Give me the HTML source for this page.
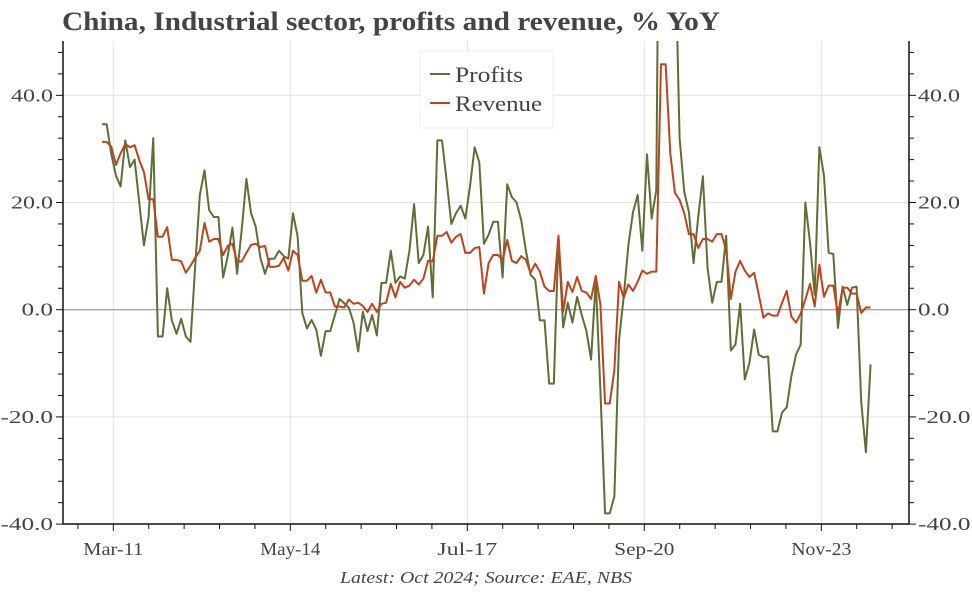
<!DOCTYPE html>
<html><head><meta charset="utf-8"><style>
html,body{margin:0;padding:0;background:#fff;}
svg text{font-family:"Liberation Serif",serif;fill:#444;}
</style></head><body>
<svg id="chart" width="972" height="589" viewBox="0 0 972 589" xmlns="http://www.w3.org/2000/svg">
<text x="62" y="30" font-size="26" font-weight="bold" fill="#444" textLength="658" lengthAdjust="spacingAndGlyphs">China, Industrial sector, profits and revenue, % YoY</text>
<defs><clipPath id="plotclip"><rect x="63" y="41" width="846" height="483"/></clipPath></defs>
<g id="grid"></g>
<g id="series" clip-path="url(#plotclip)"></g>
<g id="axes"></g>
<g>
<rect x="420" y="51" width="133" height="77" fill="#fff" stroke="#eee"/>
<line x1="430" y1="74" x2="450" y2="74" stroke="#5b7032" stroke-width="2"/>
<text x="455" y="82" font-size="22" textLength="68" lengthAdjust="spacingAndGlyphs">Profits</text>
<line x1="430" y1="103" x2="450" y2="103" stroke="#c2421a" stroke-width="2"/>
<text x="455" y="111" font-size="22" textLength="87" lengthAdjust="spacingAndGlyphs">Revenue</text>
</g>
<text x="340" y="583" font-size="17" font-style="italic" textLength="292" lengthAdjust="spacingAndGlyphs">Latest: Oct 2024; Source: EAE, NBS</text>
</svg>
<script>
const profits = [34.6,34.6,29,25,23,31.6,26.6,28,20,12,17.3,32,-5,-5,4,-2,-4.5,-1.7,-5,-6,8,21.4,26,18.6,17.3,17.3,6,10,15.3,6.7,15,24.4,18,15.5,9.7,6.7,9.5,9.5,11,10,9.5,18,13.6,-0.6,-3.5,-1.9,-3.7,-8.6,-4,-4,-1,2,1.2,0.4,-2.4,-7.8,-0.4,-4,-1,-4.8,5,5,11,5,6.2,5.8,11,19.7,8.7,10.2,15.5,2.3,31.6,31.6,24,16,18,19.4,17,23,30.3,27.5,12.3,14,16.4,16.4,6,23.4,21,20,16.7,11,6.5,5.6,-2,-2,-13.8,-13.8,13.4,-3.3,1.3,-2.4,2.4,-1,-4,-9.3,5.5,-15,-38,-38,-34.8,-5.6,2.4,12,18.2,21.4,11,29,17,22.3,130,100,80,70,32,22,18.2,8.7,17.3,24.9,7.8,1.3,5.2,5.2,13.8,-7.6,-6.5,1.1,-13,-9.9,-3.7,-8.4,-8.9,-8.7,-22.7,-22.7,-19.2,-18.2,-12.4,-8.4,-6.5,20,12.5,2.8,30.3,25,10.6,10.4,-3.4,4.3,0.9,4.1,4.3,-17.3,-26.6,-10.2];
const revenue = [31.3,31.3,30.4,27,29.2,30.9,30.3,30.7,27.9,25.7,20.6,20.6,13.6,13.6,15.4,9.3,9.3,9,6.9,8.2,9.7,11,16.2,12.7,13.2,13.2,10.2,11.9,12.3,9,9,10.6,12.1,12.3,11.7,11.9,8,8,8.2,9.7,7.3,11,10.2,5.4,5.4,6.3,3.2,5.6,3.2,3.2,0.6,0.6,0.4,1.9,1.1,1.3,0.7,-0.4,1.1,-0.4,1.1,1.3,4.8,2.3,5.2,4.1,4.5,5.6,4.7,5.8,9.1,9,13.8,13.8,14.5,12.5,13.6,14.1,10.6,10.6,11.5,11.7,3,8.7,10.2,10.2,9.3,13,9.1,8.7,10,9.3,6.9,8.6,7.1,4.3,3.5,3.5,13.8,-0.4,5.2,3.3,6.1,3.5,3.2,2,6.3,1,-17.5,-17.5,-11.2,5.2,2.2,4.7,3.5,5.2,7.3,6.7,7.1,7.1,45.8,45.8,29.2,21.8,20.5,18,14.1,14.1,11.5,13.2,13.2,12.7,14.1,14.1,11.2,2,7.1,9.1,7.3,6.1,6.9,2.8,-1.5,-0.7,-1.1,-1.1,1.3,3.5,-1.3,-2.4,-0.7,1.9,4.8,0.6,8.4,2.4,4.5,4.5,-0.9,4.1,4.1,3,3,-0.6,0.4,0.4];
const xTickLabels = ["Mar-11","May-14","Jul-17","Sep-20","Nov-23"];
const xTickMonths = [2,40,78,116,154];
const yTicks = [-40,-20,0,20,40];

const NS = "http://www.w3.org/2000/svg";
function xScale(m){ return 104 + m*4.658; }
function yScale(v){ return 309.7 - v*5.36; }
function mk(tag, attrs, parent){
  const e = document.createElementNS(NS, tag);
  for (const k in attrs) e.setAttribute(k, attrs[k]);
  parent.appendChild(e); return e;
}
const grid = document.getElementById('grid');
const axes = document.getElementById('axes');
const series = document.getElementById('series');
const L = 63, R = 909, T = 41, B = 524;

yTicks.forEach(v => {
  const y = yScale(v);
  if (v !== 0) {
    const g = mk('line', {x1:L, x2:R, y1:y, y2:y, stroke:'#e2e2e2', 'stroke-width':1}, grid);
    
    
  }
  const s = v.toFixed(1);
  const w = s.length * 10.5;
  const lt = mk('text', {x:53 - w, y:y+6, 'font-size':18, textLength:w, lengthAdjust:'spacingAndGlyphs'}, axes);
  lt.textContent = s;
  
  
  const rt = mk('text', {x:918, y:y+6, 'font-size':18, textLength:w, lengthAdjust:'spacingAndGlyphs'}, axes);
  rt.textContent = s;
  
  
});
for (let v = -40; v <= 50; v += 4) {
  const y = yScale(v);
  const major = v % 20 === 0;
  mk('line', {x1:L-(major?7:5), x2:L, y1:y, y2:y, stroke:'#111', 'stroke-width':1}, axes);
  mk('line', {x1:R, x2:R+(major?7:5), y1:y, y2:y, stroke:'#111', 'stroke-width':1}, axes);
}
xTickMonths.forEach((m, i) => {
  const x = xScale(m);
  const g = mk('line', {x1:x, x2:x, y1:T, y2:B, stroke:'#e2e2e2', 'stroke-width':1}, grid);
  
  
  const t = mk('text', {x:x, y:555, 'font-size':18, 'text-anchor':'middle', textLength:60, lengthAdjust:'spacingAndGlyphs'}, axes);
  t.textContent = xTickLabels[i];
  
  
});
for (let m = 2 - 7.6; m < 172; m += 7.6) {
  const x = xScale(m);
  if (x < L || x > R) continue;
  const major = Math.abs(((m - 2) / 38) - Math.round((m - 2) / 38)) < 0.01;
  mk('line', {x1:x, x2:x, y1:B, y2:B+(major?7:5), stroke:'#111', 'stroke-width':1}, axes);
}
const zl = mk('line', {x1:L, x2:R, y1:yScale(0), y2:yScale(0), stroke:'#888', 'stroke-width':1}, grid);


const la = mk('line', {x1:L, x2:L, y1:T, y2:B, stroke:'#111', 'stroke-width':1.5}, axes);


const ra = mk('line', {x1:R, x2:R, y1:T, y2:B, stroke:'#111', 'stroke-width':1.5}, axes);


const xa = mk('line', {x1:L, x2:R, y1:B, y2:B, stroke:'#111', 'stroke-width':1.5}, axes);



function path(vals){ return vals.map((v,i)=>(i?'L':'M')+(xScale(i)-2).toFixed(2)+','+yScale(v).toFixed(2)).join(' '); }
const pr = mk('path', {d:path(profits), fill:'none', stroke:'#5b7032', 'stroke-width':2, 'stroke-linejoin':'round'}, series);


const rv = mk('path', {d:path(revenue), fill:'none', stroke:'#c2421a', 'stroke-width':2, 'stroke-linejoin':'round'}, series);


</script>
</body></html>
